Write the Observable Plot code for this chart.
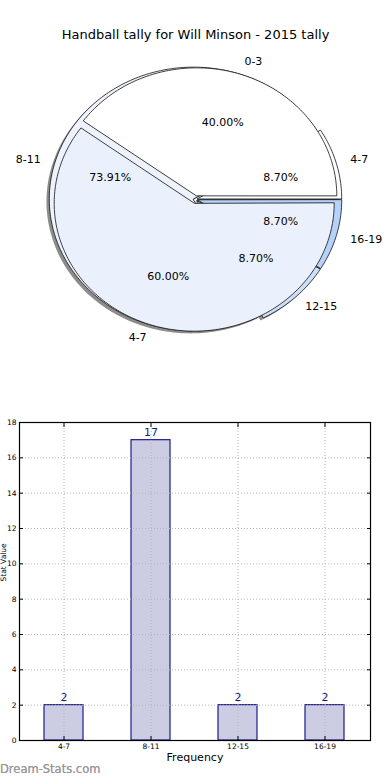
<!DOCTYPE html>
<html><head><meta charset="utf-8">
<script src="https://cdn.jsdelivr.net/npm/d3@7"></script>
<script src="https://cdn.jsdelivr.net/npm/@observablehq/plot@0.6"></script>
<style>
body{margin:0;width:390px;height:780px;position:relative;background:#fff;font-family:"DejaVu Sans",sans-serif;overflow:hidden}
#pie{position:absolute;left:0;top:0}
#bar{position:absolute;left:0;top:410px}
#wm{position:absolute;left:0;top:762px;font-size:11.5px;color:#999;font-family:"DejaVu Sans",sans-serif;text-shadow:0 0 0.4px #999}
</style></head><body>
<div id="pie"></div><div id="bar"></div><div id="wm">Dream-Stats.com</div>
<script>
const title = "Handball tally for Will Minson - 2015 tally";
// first pie (drawn on top)
const pieALabels = ["0-3", "4-7"];
const pieAValues = [40, 60];
const pieAColors = ["#ffffff", "#ebf1fc"];
// tally pie (drawn underneath) and bars
const tallyLabels = ["4-7", "8-11", "12-15", "16-19"];
const tallyValues = [2, 17, 2, 2];
const tallyColors = ["#ffffff", "#eef2fc", "#cddff8", "#b4d2fa"];
const yTicks = [0, 2, 4, 6, 8, 10, 12, 14, 16, 18];

function buildPie(name, labels, values, colors, r, explode, ox = 0, oy = 0) {
  const total = d3.sum(values);
  let a = 0;
  const polys = [], labs = [], pcts = [];
  values.forEach((v, i) => {
    const span = v / total * 2 * Math.PI;
    const a0 = a, a1 = a + span; a = a1;
    const m = (a0 + a1) / 2;
    const cx = ox + explode * Math.cos(m), cy = oy + explode * Math.sin(m);
    const key = name + i;
    polys.push({key, x: cx, y: cy, fill: colors[i]});
    const n = Math.max(4, Math.ceil(span / 0.02));
    for (let k = 0; k <= n; k++) {
      const t = a0 + (a1 - a0) * k / n;
      polys.push({key, x: cx + r * Math.cos(t), y: cy + r * Math.sin(t), fill: colors[i]});
    }
    const lx = cx + 1.1 * r * Math.cos(m), ly = cy + 1.1 * r * Math.sin(m);
    labs.push({x: lx, y: ly, text: labels[i], side: lx > 0 ? "start" : "end"});
    pcts.push({x: cx + 0.6 * r * Math.cos(m), y: cy + 0.6 * r * Math.sin(m), text: (v / total * 100).toFixed(2) + "%"});
  });
  return {polys, labs, pcts};
}

const pieB = buildPie("b", tallyLabels, tallyValues, tallyColors, 1.03, 0.015);
const shadowB = buildPie("s", tallyLabels, tallyValues, tallyColors, 1.03, 0.015, -0.02, -0.02);
const pieA = buildPie("a", pieALabels, pieAValues, pieAColors, 1.0, 0.03);

const W = 390, H = 400, CX = 195, CY = 199, RX = 140, RY = 128;
const lineOpts = {x: "x", y: "y", z: "key", curve: "linear-closed"};
const allLabs = [...pieB.labs, ...pieA.labs];
const allPcts = [...pieB.pcts, ...pieA.pcts];

const piePlot = Plot.plot({
  width: W, height: H, margin: 0,
  style: {fontFamily: "DejaVu Sans", background: "transparent"},
  x: {domain: [-CX / RX, (W - CX) / RX], axis: null},
  y: {domain: [-(H - CY) / RY, CY / RY], axis: null},
  color: {type: "identity"},
  marks: [
    Plot.line(shadowB.polys, {...lineOpts, fill: "#000", fillOpacity: 0.45, stroke: "none"}),
    Plot.line(pieB.polys, {...lineOpts, fill: "fill", stroke: "#111", strokeWidth: 0.8}),
    Plot.line(pieA.polys, {...lineOpts, fill: "fill", stroke: "#111", strokeWidth: 0.8}),
    Plot.text(allLabs.filter(d => d.side === "start"), {x: "x", y: "y", text: "text", textAnchor: "start", fontSize: 11, fill: "#000"}),
    Plot.text(allLabs.filter(d => d.side === "end"), {x: "x", y: "y", text: "text", textAnchor: "end", fontSize: 11, fill: "#000"}),
    Plot.text(allPcts, {x: "x", y: "y", text: "text", fontSize: 11, fill: "#000"}),
    Plot.text([title], {frameAnchor: "top", dy: 29, fontSize: 13, fill: "#000"})
  ]
});
document.getElementById("pie").appendChild(piePlot);

const barData = tallyLabels.map((c, i) => ({c, v: tallyValues[i]}));
const gridStyle = {stroke: "#b5b5b5", strokeOpacity: 1, strokeDasharray: "1,2", strokeWidth: 1};
const barPlot = Plot.plot({
  width: 390, height: 370,
  marginTop: 12, marginBottom: 40, marginLeft: 19, marginRight: 20,
  style: {fontFamily: "DejaVu Sans", background: "transparent", color: "#000"},
  x: {domain: tallyLabels, paddingInner: 0.55, paddingOuter: 0.275, label: null},
  y: {domain: [0, 18], label: null},
  marks: [
    Plot.barY(barData, {x: "c", y: "v", fill: "#cccce3", stroke: "#1b1b8c", strokeWidth: 1.2}),
    Plot.gridY(yTicks, gridStyle),
    Plot.gridX(tallyLabels, gridStyle),
    Plot.text(barData, {x: "c", y: "v", text: d => String(d.v), dy: -8, fill: "#1d1d8b", fontSize: 11}),
    Plot.axisY(yTicks, {anchor: "left", tickSize: -4, tickPadding: 7, fontSize: 7.5, label: null}),
    Plot.axisY(yTicks, {anchor: "right", tickSize: -4, tickFormat: () => "", label: null}),
    Plot.axisX(tallyLabels, {anchor: "bottom", tickSize: -4, tickPadding: 7, fontSize: 7.5, label: null}),
    Plot.axisX(tallyLabels, {anchor: "top", tickSize: -4, tickFormat: () => "", label: null}),
    Plot.text(["Frequency"], {frameAnchor: "bottom", dy: 20, fontSize: 11, fill: "#000"}),
    Plot.text(["Stat Value"], {frameAnchor: "left", dx: -15.5, rotate: -90, fontSize: 7.5, fill: "#000"}),
    Plot.frame({stroke: "#000", strokeWidth: 1.2})
  ]
});
document.getElementById("bar").appendChild(barPlot);
</script>
</body></html>
